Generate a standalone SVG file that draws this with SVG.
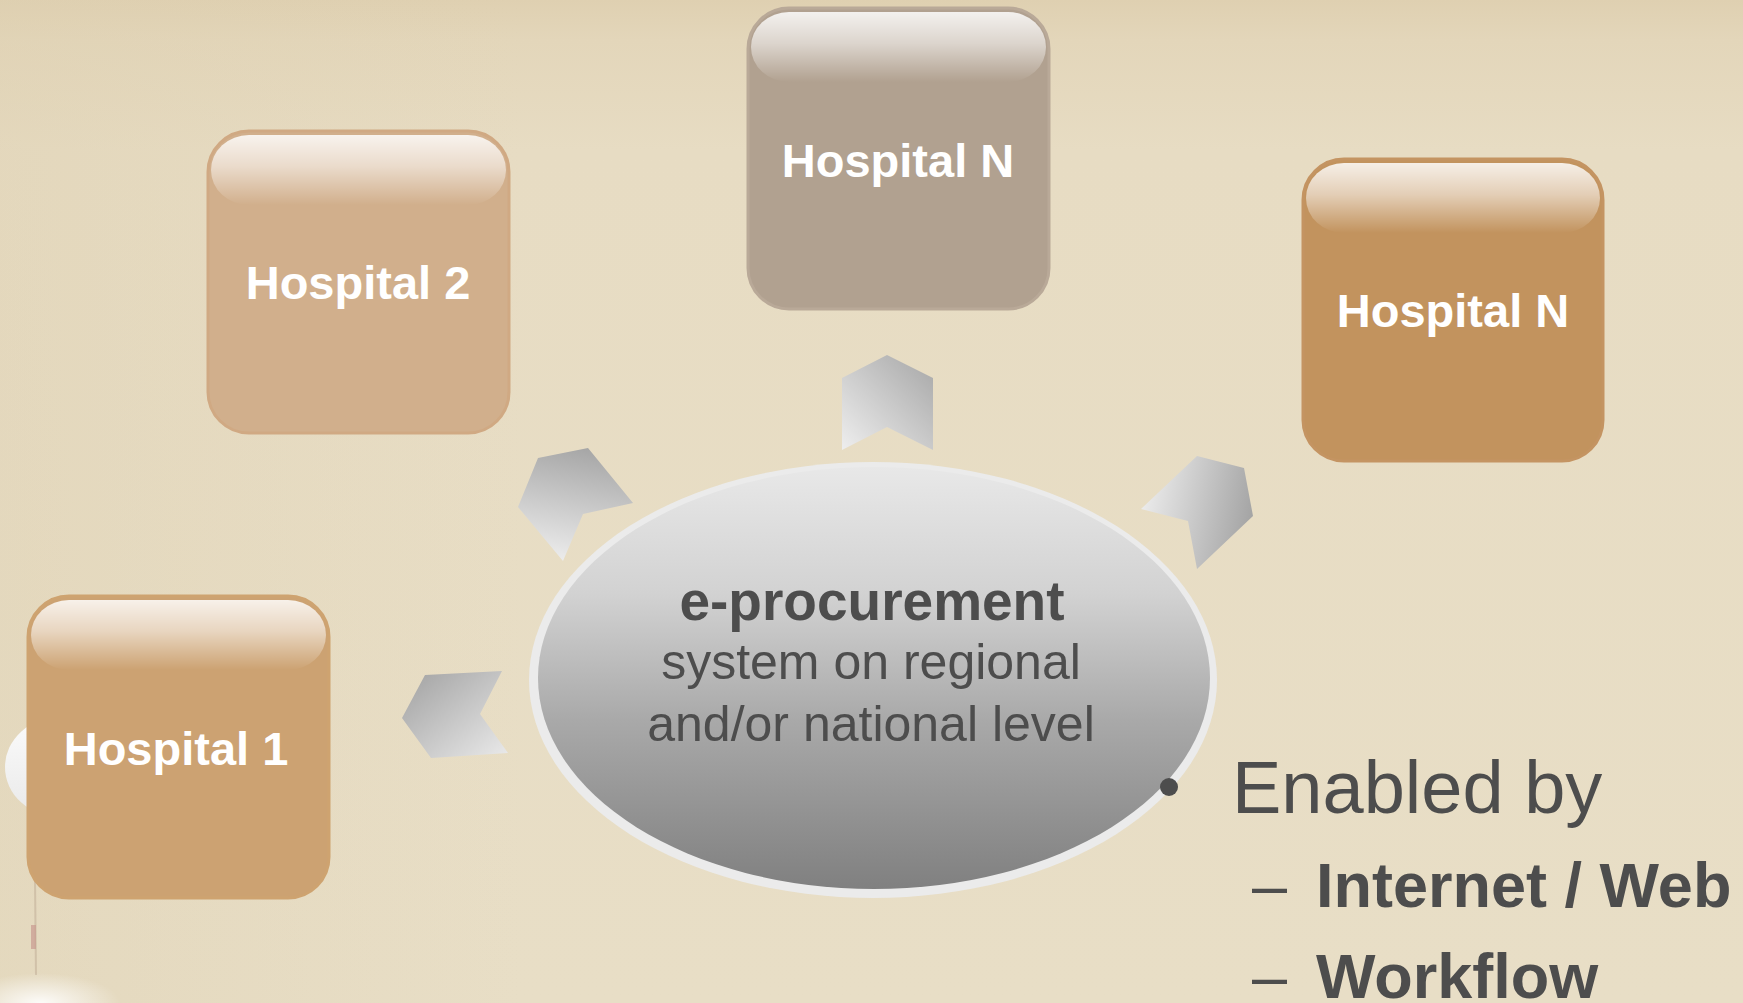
<svg xmlns="http://www.w3.org/2000/svg" width="1743" height="1003" viewBox="0 0 1743 1003">
<defs>
<style>
.hlabel{font-family:"Liberation Sans",Arial,sans-serif;font-weight:bold;font-size:47px;fill:#ffffff;text-anchor:middle}
.ctext{font-family:"Liberation Sans",Arial,sans-serif;fill:#4d4d4d;text-anchor:middle}
.btext{font-family:"Liberation Sans",Arial,sans-serif;fill:#4d4d4d}
.gloss{fill:url(#gloss)}
</style>
<linearGradient id="bg" x1="0" y1="0" x2="0" y2="1">
<stop offset="0" stop-color="#dfd0b1"/>
<stop offset="0.04" stop-color="#e3d6ba"/>
<stop offset="0.15" stop-color="#e7dcc3"/>
<stop offset="1" stop-color="#e8dec6"/>
</linearGradient>
<linearGradient id="bgside" x1="0" y1="0" x2="1" y2="0">
<stop offset="0" stop-color="#ddcfb0" stop-opacity="0.35"/>
<stop offset="0.3" stop-color="#ddcfb0" stop-opacity="0"/>
</linearGradient>
<linearGradient id="gloss" x1="0" y1="0" x2="0" y2="1">
<stop offset="0" stop-color="#ffffff" stop-opacity="0.85"/>
<stop offset="0.45" stop-color="#ffffff" stop-opacity="0.55"/>
<stop offset="1" stop-color="#ffffff" stop-opacity="0"/>
</linearGradient>
<linearGradient id="ellFill" x1="0" y1="0" x2="0" y2="1">
<stop offset="0" stop-color="#e8e8e8"/>
<stop offset="0.3" stop-color="#d2d2d2"/>
<stop offset="0.6" stop-color="#a9a9a9"/>
<stop offset="1" stop-color="#808080"/>
</linearGradient>
<linearGradient id="blob" x1="0" y1="0" x2="0" y2="1">
<stop offset="0" stop-color="#fbfbfb"/>
<stop offset="1" stop-color="#e9e9e9"/>
</linearGradient>
<radialGradient id="glow" cx="0.5" cy="0.5" r="0.5">
<stop offset="0" stop-color="#ffffff" stop-opacity="0.9"/>
<stop offset="1" stop-color="#ffffff" stop-opacity="0"/>
</radialGradient>
<linearGradient id="gUp" x1="0" y1="1" x2="1" y2="0">
<stop offset="0" stop-color="#eeeeee"/>
<stop offset="1" stop-color="#a6a6a6"/>
</linearGradient>
<linearGradient id="gLeft" x1="0" y1="0" x2="1" y2="1">
<stop offset="0" stop-color="#a0a0a0"/>
<stop offset="1" stop-color="#eaeaea"/>
</linearGradient>
<linearGradient id="gUL" x1="0.6" y1="0" x2="0.4" y2="1">
<stop offset="0" stop-color="#a6a6a6"/>
<stop offset="1" stop-color="#ececec"/>
</linearGradient>
<linearGradient id="gUR" x1="0" y1="0.4" x2="1" y2="0.6">
<stop offset="0" stop-color="#ececec"/>
<stop offset="1" stop-color="#a3a3a3"/>
</linearGradient>
</defs>

<g id="background">
<rect x="0" y="0" width="1743" height="1003" fill="url(#bg)"/>
<rect x="0" y="0" width="1743" height="1003" fill="url(#bgside)"/>
<ellipse cx="60" cy="767" rx="55" ry="50" fill="url(#blob)"/>
<line x1="35" y1="880" x2="36" y2="975" stroke="#c9b8a0" stroke-width="2" opacity="0.7"/>
<rect x="31" y="925" width="5" height="24" fill="#c99a90" opacity="0.7"/>
<ellipse cx="40" cy="1003" rx="80" ry="30" fill="url(#glow)"/>
</g>

<g id="connectors">
<polygon points="842,378 887,355 933,378 933,450 887,427 842,450" fill="url(#gUp)"/>
<polygon points="425,675 502,671 480,714 508,753 431,758 402,718" fill="url(#gLeft)"/>
<polygon points="538,458 588,448 633,503 583,514 563,561 518,507" fill="url(#gUL)"/>
<polygon points="1197,456 1244,468 1253,516 1197,569 1188,521 1141,509" fill="url(#gUR)"/>
</g>

<g id="node-hospital-2">
<rect x="208" y="131" width="301" height="302" rx="41" fill="#d1af8c" stroke="#d0a983" stroke-width="3"/>
<rect x="211" y="135" width="295" height="70" rx="38" class="gloss"/>
<text x="358" y="299" class="hlabel">Hospital 2</text>
</g>

<g id="node-hospital-n-top">
<rect x="748" y="8" width="301" height="301" rx="41" fill="#b1a190" stroke="#b9a998" stroke-width="3"/>
<rect x="751" y="12" width="295" height="70" rx="38" class="gloss"/>
<text x="898" y="177" class="hlabel">Hospital N</text>
</g>

<g id="node-hospital-n-right">
<rect x="1303" y="159" width="300" height="302" rx="41" fill="#c2935e" stroke="#c49462" stroke-width="3"/>
<rect x="1306" y="163" width="294" height="70" rx="38" class="gloss"/>
<text x="1453" y="327" class="hlabel">Hospital N</text>
</g>

<g id="node-hospital-1">
<rect x="28" y="596" width="301" height="302" rx="41" fill="#cca272" stroke="#cea370" stroke-width="3"/>
<rect x="31" y="600" width="295" height="70" rx="38" class="gloss"/>
<text x="176" y="765" class="hlabel">Hospital 1</text>
</g>

<g id="node-eprocurement">
<ellipse cx="873" cy="680" rx="344" ry="218" fill="#ebebeb"/>
<ellipse cx="874" cy="678" rx="336" ry="211" fill="url(#ellFill)"/>
<text x="872" y="620" class="ctext" font-size="55" font-weight="bold">e-procurement</text>
<text x="871" y="679" class="ctext" font-size="50">system on regional</text>
<text x="871" y="741" class="ctext" font-size="50">and/or national level</text>
</g>

<g id="enabled-by">
<circle cx="1169" cy="787" r="9" fill="#4d4d4d"/>
<text x="1232" y="813" class="btext" font-size="74">Enabled by</text>
<text x="1252" y="907" class="btext" font-size="63">–</text>
<text x="1316" y="907" class="btext" font-size="63" font-weight="bold">Internet / Web</text>
<text x="1252" y="998" class="btext" font-size="63">–</text>
<text x="1316" y="998" class="btext" font-size="63" font-weight="bold">Workflow</text>
</g>
</svg>
